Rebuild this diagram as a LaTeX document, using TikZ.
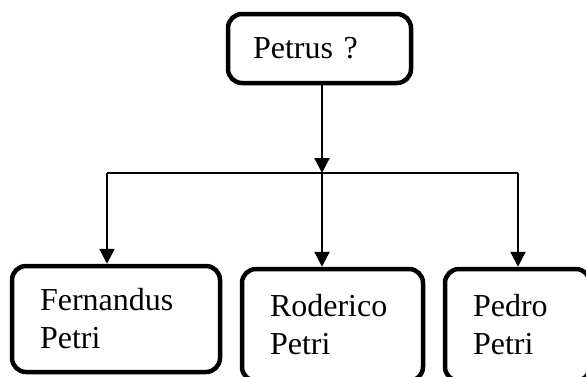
\documentclass[tikz,border=0pt]{standalone}
\usepackage{fontspec}
\setmainfont{Liberation Serif}
\usepackage{tikz}
\usetikzlibrary{positioning, arrows.meta}

\begin{document}
\begin{tikzpicture}[
  x=1pt, y=-1pt,
  person/.style={rectangle, draw, line width=4.5pt, rounded corners=14pt,
    inner xsep=28pt, inner ysep=0pt, align=left,
    font=\fontsize{32}{38}\selectfont},
  bar/.style={draw=black, line width=1.3pt},
  link/.style={draw=black, line width=2.2pt, -{Triangle[width=15pt,length=15pt]}}
]
  \useasboundingbox (0,0) rectangle (586,376);

  % Parent box.
  \node[person, inner xsep=25pt, text width=133pt, minimum height=69pt]
    (petrus) at (319.5,48.5) {Petrus ?};

  % Children boxes.
  \node[person, text width=152pt, minimum height=106pt]
    (fernandus) at (116,319) {Fernandus\\Petri};
  \node[person, text width=125pt, minimum height=112pt]
    (rodericus) at (332.5,325) {Roderico\\Petri};
  \node[person, text width=89pt, minimum height=112pt]
    (pedro) at (517.5,325) {Pedro\\Petri};

  % Branch points on the bar.
  \coordinate (jl) at (107,173);
  \coordinate (jm) at (322,173);
  \coordinate (jr) at (518,173);

  % Bar and arrows.
  \draw[bar] (jl) -- (jr);
  \draw[link] (petrus.south -| jm) -- (jm);
  \draw[link] (jl) -- (jl |- fernandus.north);
  \draw[link] (jm) -- (jm |- rodericus.north);
  \draw[link] (jr) -- (jr |- pedro.north);
\end{tikzpicture}
\end{document}
